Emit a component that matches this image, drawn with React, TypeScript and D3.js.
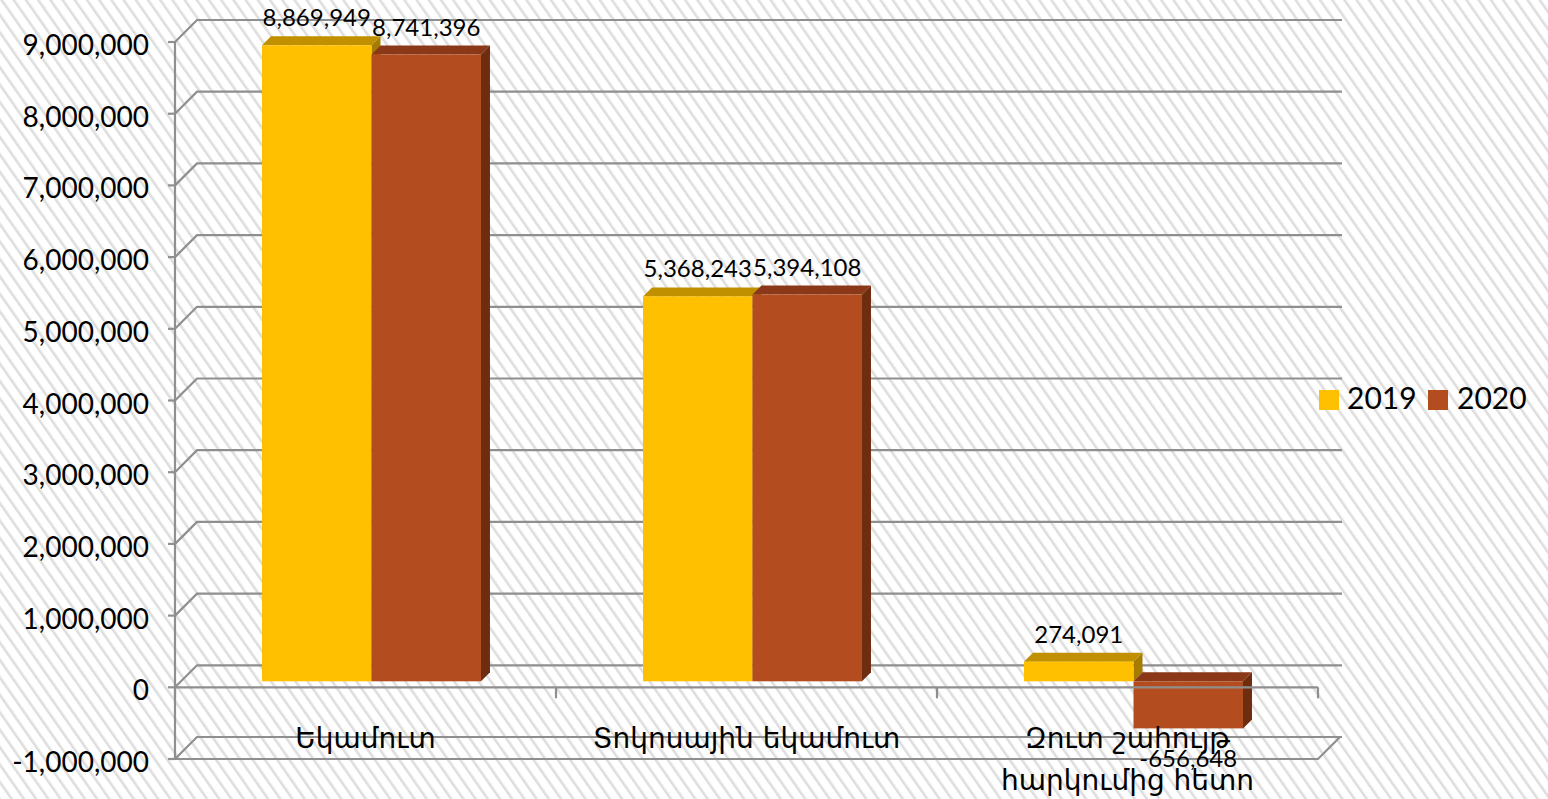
import React from "react";
import * as d3 from "d3";

const categories = ["Եկամուտ", "Տոկոսային եկամուտ", "Զուտ շահույթ\nհարկումից հետո"];
const series = ["2019", "2020"];
const values2019 = [8869949, 5368243, 274091];
const values2020 = [8741396, 5394108, -656648];
const yTicks = [-1000000, 0, 1000000, 2000000, 3000000, 4000000, 5000000, 6000000, 7000000, 8000000, 9000000];

const W = 1548;
const H = 799;
const colors = {
  "2019": { front: "#FFC000", top: "#C09000", side: "#A67C00" },
  "2020": { front: "#B34C1F", top: "#8A3817", side: "#6F2D10" },
};

export default function App() {
  const x0 = d3.scaleBand<string>().domain(categories).range([175, 1318]).paddingInner(0).paddingOuter(0);
  const x1 = d3.scaleBand<string>().domain(series).range([0, x0.bandwidth()]).paddingInner(0).paddingOuter(0.74);
  const y = d3.scaleLinear().domain([-1000000, 9000000]).range([759, 42]);
  const f0 = d3.format(",");
  const fmt = (v: number) => f0(v).replace("\u2212", "-");

  const D = 22; // full depth
  const bOff = 6; // bar front offset in depth
  const bDep = 9; // bar depth

  const gridColor = "#8f8f8f";
  const xL = 175;
  const xR = 1318;
  const backR = 1342;

  const bars: any[] = [];
  const labels: any[] = [];
  categories.forEach((c, ci) => {
    series.forEach((s) => {
      const v = s === "2019" ? values2019[ci] : values2020[ci];
      const col = (colors as any)[s];
      const xf = (x0(c) as number) + (x1(s) as number) + bOff;
      const w = x1.bandwidth();
      const yv = y(v) - bOff;
      const y0 = y(0) - bOff;
      const top = Math.min(yv, y0);
      const bot = Math.max(yv, y0);
      const d = bDep;
      bars.push(
        <g key={c + s}>
          <polygon
            points={`${xf + w},${top} ${xf + w + d},${top - d} ${xf + w + d},${bot - d} ${xf + w},${bot}`}
            fill={col.side}
          />
          <polygon
            points={`${xf},${top} ${xf + d},${top - d} ${xf + w + d},${top - d} ${xf + w},${top}`}
            fill={col.top}
          />
          <rect x={xf} y={top} width={w} height={bot - top} fill={col.front} />
        </g>
      );
      const cx = xf + w / 2;
      const ly = v >= 0 ? yv - d - 10 : yv + 39;
      labels.push(
        <text key={"l" + c + s} x={cx} y={ly} textAnchor="middle" fontSize={24} fill="#000">
          {fmt(v)}
        </text>
      );
    });
  });

  return (
    <svg
      width={W}
      height={H}
      style={{ position: "absolute", left: 0, top: 0, fontFamily: "Lato, 'DejaVu Sans', sans-serif" }}
    >
      <defs>
        <pattern id="stripes" width={10} height={10} patternUnits="userSpaceOnUse" patternTransform="rotate(-35)">
          <rect width={10} height={10} fill="#ffffff" />
          <rect x={0} y={0} width={2.6} height={10} fill="#dedede" />
        </pattern>
      </defs>
      <rect x={0} y={0} width={W} height={H} fill="url(#stripes)" />

      {/* back grid lines and left diagonals */}
      {yTicks.map((t) => (
        <path
          key={"g" + t}
          d={`M${xL},${y(t)} L${xL + D},${y(t) - D} L${backR},${y(t) - D}`}
          fill="none"
          stroke={gridColor}
          strokeWidth={2.2}
        />
      ))}

      {bars}

      {/* front category axis at 0 and floor */}
      <path d={`M${xL},${y(0)} L${xR},${y(0)}`} stroke={gridColor} strokeWidth={2.2} fill="none" />
      {[...categories.map((c) => x0(c) as number), xR].map((xt, i) => (
        <line key={"xt" + i} x1={xt} x2={xt} y1={y(0)} y2={y(0) + 11} stroke={gridColor} strokeWidth={2.2} />
      ))}
      <path
        d={`M${xL},${y(-1000000)} L${xR},${y(-1000000)} L${xR + D},${y(-1000000) - D}`}
        stroke={gridColor}
        strokeWidth={2.2}
        fill="none"
      />
      {/* vertical axis */}
      <line x1={xL} x2={xL} y1={y(9000000)} y2={y(-1000000)} stroke={gridColor} strokeWidth={2.2} />
      {yTicks.map((t) => (
        <g key={"yt" + t}>
          <line x1={xL - 7} x2={xL} y1={y(t)} y2={y(t)} stroke={gridColor} strokeWidth={2.2} />
          <text x={149} y={y(t) + 13} textAnchor="end" fontSize={28} fill="#000">
            {fmt(t)}
          </text>
        </g>
      ))}

      {/* category labels */}
      {categories.map((c) => {
        const lines = c.split("\n");
        const cx = (x0(c) as number) + x0.bandwidth() / 2;
        return (
          <text key={"c" + c} x={cx} y={748} textAnchor="middle" fontSize={28} fill="#000" fontFamily="'DejaVu Sans', sans-serif">
            {lines.map((ln, i) => (
              <tspan key={i} x={cx} dy={i === 0 ? 0 : 42}>
                {ln}
              </tspan>
            ))}
          </text>
        );
      })}

      {labels}

      {/* legend */}
      <rect x={1319} y={390} width={20} height={20} fill={colors["2019"].front} />
      <text x={1347} y={409} fontSize={30} fill="#000">2019</text>
      <rect x={1428} y={390} width={20} height={20} fill={colors["2020"].front} />
      <text x={1457} y={409} fontSize={30} fill="#000">2020</text>
    </svg>
  );
}
